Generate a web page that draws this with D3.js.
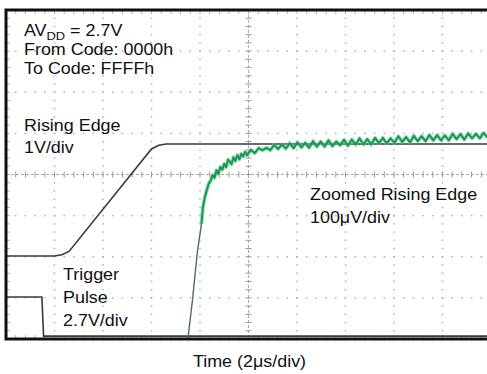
<!DOCTYPE html>
<html><head><meta charset="utf-8">
<script src="https://cdn.jsdelivr.net/npm/d3@7"></script>
<style>
html,body{margin:0;padding:0;background:#fff;}
svg{display:block;}
text{font-family:"Liberation Sans",Arial,Helvetica,sans-serif;fill:#111;}
</style></head>
<body>
<svg id="chart" width="487" height="374"></svg>
<script>
// Time axis (µs): 2 µs/div, 10 divisions; vertical axis in screen divisions (8)
const xDomain = [0, 20];
const yDomain = [0, 8];
const xLabel = "Time (2μs/div)";

// Trigger pulse (2.7V/div)
const trigT = [0, 1.48, 1.55, 20];
const trigV = [1.02, 1.02, 0.07, 0.07];

// Rising edge (1V/div)
const riseT = [0, 2.0, 2.3, 2.6, 6.0, 6.3, 6.6, 20];
const riseV = [2.02, 2.02, 2.05, 2.13, 4.62, 4.71, 4.74, 4.74];

// Zoomed rising edge (100µV/div) – steep part
const zoomRiseT = [7.5, 7.6, 7.7, 7.8, 7.9, 8.0, 8.06];
const zoomRiseV = [0.0, 0.5, 1.0, 1.6, 2.15, 2.55, 2.8];

// Zoomed rising edge – settling part
const zoomT = [8.06, 8.12, 8.20, 8.28, 8.36, 8.44, 8.52, 8.60, 8.68, 8.76, 8.84, 8.92, 9.00, 9.08, 9.16,
  9.30, 9.38, 9.46, 9.54, 9.62, 9.70, 9.78, 9.86, 9.94,
  10.10, 10.26, 10.34, 10.42, 10.58, 10.74, 10.90, 11.06, 11.22, 11.38, 11.46, 11.54, 11.70, 11.86,
  12.02, 12.18, 12.34, 12.50, 12.66, 12.74, 12.82, 12.98, 13.14, 13.30, 13.46, 13.62, 13.78, 13.94,
  14.10, 14.26, 14.42, 14.50, 14.58, 14.74, 14.90, 15.06, 15.22, 15.38, 15.54, 15.62, 15.70, 15.86,
  16.02, 16.18, 16.34, 16.50, 16.66, 16.82, 16.90, 16.98, 17.14, 17.30, 17.46, 17.62, 17.78, 17.94,
  18.10, 18.26, 18.42, 18.50, 18.58, 18.74, 18.90, 19.06, 19.22, 19.38, 19.54, 19.62, 19.70, 19.86, 20.02];
const zoomV = [2.8, 3.2, 3.45, 3.62, 3.78, 3.85, 3.98, 3.92, 4.10, 4.02, 4.18, 4.12, 4.26, 4.18, 4.36,
  4.25, 4.42, 4.33, 4.47, 4.37, 4.50, 4.44, 4.55, 4.47,
  4.60, 4.52, 4.58, 4.64, 4.59, 4.65, 4.59, 4.72, 4.62, 4.73, 4.68, 4.63, 4.76, 4.64,
  4.78, 4.66, 4.77, 4.65, 4.81, 4.74, 4.68, 4.80, 4.68, 4.83, 4.69, 4.80, 4.71, 4.84,
  4.70, 4.85, 4.73, 4.80, 4.88, 4.73, 4.86, 4.73, 4.89, 4.76, 4.89, 4.82, 4.76, 4.88,
  4.77, 4.93, 4.79, 4.91, 4.78, 4.94, 4.87, 4.81, 4.93, 4.81, 4.96, 4.83, 4.96, 4.83,
  4.95, 4.83, 4.99, 4.92, 4.86, 4.98, 4.85, 5.00, 4.88, 4.99, 4.88, 4.95, 5.01, 4.90, 4.98];

// Annotations
const infoLines = ["From Code: 0000h", "To Code: FFFFh"];
const risingLabel = ["Rising Edge", "1V/div"];
const triggerLabel = ["Trigger", "Pulse", "2.7V/div"];
const zoomLabel = ["Zoomed Rising Edge", "100μV/div"];

const svg = d3.select("#chart");
const L = 6, R = 491, T = 10, B = 339;
const x = d3.scaleLinear().domain(xDomain).range([L, R]);
const y = d3.scaleLinear().domain(yDomain).range([B, T]);

svg.append("defs").append("clipPath").attr("id", "clip")
  .append("rect").attr("x", L).attr("y", T).attr("width", R - L).attr("height", B - T);

const grid = svg.append("g");
const gridCol = "#b0b0b0";
const xMinor = d3.range(0, 20.001, 0.4);
const yMinor = d3.range(0, 8.001, 0.2);
for (let t = 2; t < 20; t += 2) {
  if (t === 10) continue;
  grid.selectAll(null).data(yMinor).enter().append("rect")
    .attr("x", x(t) - 0.75).attr("y", d => y(d) - 0.75).attr("width", 1.5).attr("height", 1.5)
    .attr("fill", gridCol);
}
for (let v = 1; v < 8; v++) {
  if (v === 4) continue;
  grid.selectAll(null).data(xMinor).enter().append("rect")
    .attr("x", d => x(d) - 0.75).attr("y", y(v) - 0.75).attr("width", 1.5).attr("height", 1.5)
    .attr("fill", gridCol);
}
grid.append("line").attr("x1", L).attr("x2", R).attr("y1", y(4)).attr("y2", y(4))
  .attr("stroke", "#aaa").attr("stroke-width", 1).attr("stroke-dasharray", "3,2");
grid.selectAll(null).data(xMinor).enter().append("line")
  .attr("x1", d => x(d)).attr("x2", d => x(d)).attr("y1", y(4) - 3).attr("y2", y(4) + 3)
  .attr("stroke", "#999").attr("stroke-width", 1);
grid.append("line").attr("x1", x(10)).attr("x2", x(10)).attr("y1", T).attr("y2", B)
  .attr("stroke", "#aaa").attr("stroke-width", 1).attr("stroke-dasharray", "3,2");
grid.selectAll(null).data(yMinor).enter().append("line")
  .attr("x1", x(10) - 3).attr("x2", x(10) + 3).attr("y1", d => y(d)).attr("y2", d => y(d))
  .attr("stroke", "#999").attr("stroke-width", 1);
grid.selectAll(null).data(xMinor).enter().append("line")
  .attr("x1", d => x(d)).attr("x2", d => x(d)).attr("y1", T).attr("y2", T + 4)
  .attr("stroke", gridCol).attr("stroke-width", 1);
grid.selectAll(null).data(xMinor).enter().append("line")
  .attr("x1", d => x(d)).attr("x2", d => x(d)).attr("y1", B).attr("y2", B - 4)
  .attr("stroke", gridCol).attr("stroke-width", 1);
grid.selectAll(null).data(yMinor).enter().append("line")
  .attr("x1", L).attr("x2", L + 4).attr("y1", d => y(d)).attr("y2", d => y(d))
  .attr("stroke", gridCol).attr("stroke-width", 1);

const line = d3.line().x(d => x(d[0])).y(d => y(d[1]));
const traces = svg.append("g").attr("clip-path", "url(#clip)");
traces.append("path").datum(d3.zip(trigT, trigV)).attr("d", line)
  .attr("fill", "none").attr("stroke", "#3a3a3a").attr("stroke-width", 1.6);
traces.append("path").datum(d3.zip(riseT, riseV)).attr("d", line)
  .attr("fill", "none").attr("stroke", "#3a3a3a").attr("stroke-width", 1.6);
traces.append("path").datum(d3.zip(zoomRiseT, zoomRiseV)).attr("d", line)
  .attr("fill", "none").attr("stroke", "#4f6e5b").attr("stroke-width", 1.4);
const zd = d3.zip(zoomT, zoomV);
traces.append("path").datum(zd).attr("d", line)
  .attr("fill", "none").attr("stroke", "#74cf9c").attr("stroke-width", 4.2)
  .attr("stroke-opacity", 0.6).attr("stroke-linejoin", "round");
traces.append("path").datum(zd).attr("d", line)
  .attr("fill", "none").attr("stroke", "#1a9852").attr("stroke-width", 2.1)
  .attr("stroke-linejoin", "round");

// frame
svg.append("path").attr("d", `M${R + 5},${T}H${L}V${B}H${R + 5}`)
  .attr("fill", "none").attr("stroke", "#111").attr("stroke-width", 3);

// texts (slightly wide lettering as in the original)
const fs = 16, sx = 1.12;
function label(px, py, anchor) {
  return svg.append("text").attr("transform", `translate(${px},${py}) scale(${sx},1)`)
    .attr("font-size", fs).attr("text-anchor", anchor || "start");
}
const av = label(24, 36);
av.append("tspan").text("AV");
av.append("tspan").attr("font-size", 11.5).attr("dy", 3.5).text("DD");
av.append("tspan").attr("dy", -3.5).text(" = 2.7V");
infoLines.forEach((s, i) => label(24, 55 + i * 19).text(s));
risingLabel.forEach((s, i) => label(24, 130.5 + i * 22.5).text(s));
triggerLabel.forEach((s, i) => label(63, 280 + i * 23).text(s));
zoomLabel.forEach((s, i) => label(310, 200 + i * 23).text(s));
label(249.5, 367, "middle").text(xLabel);
</script>
</body></html>
